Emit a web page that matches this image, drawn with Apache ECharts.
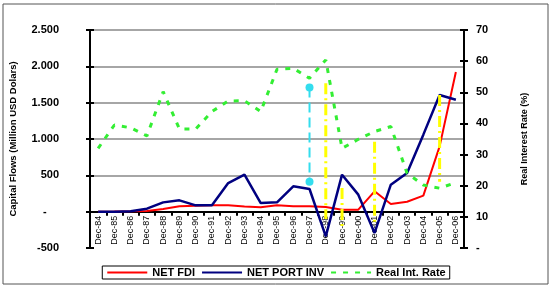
<!DOCTYPE html>
<html>
<head>
<meta charset="utf-8">
<script src="https://cdn.jsdelivr.net/npm/echarts@6/dist/echarts.min.js"></script>
<style>
html,body{margin:0;padding:0;background:#fff;}
#chart{width:552px;height:288px;}
</style>
</head>
<body>
<div id="chart"></div>
<script>
var years = ['Dec-84','Dec-85','Dec-86','Dec-87','Dec-88','Dec-89','Dec-90','Dec-91','Dec-92','Dec-93','Dec-94','Dec-95',
	'Dec-96','Dec-97','Dec-98','Dec-99','Dec-00','Dec-01','Dec-02','Dec-03','Dec-04','Dec-05','Dec-06'];
// million USD
var netFdi = [0, 2, 5, 10, 37, 73, 82, 87, 87, 72, 60, 87, 75, 73, 64, 27, 27, 280, 105, 137, 220, 899, 1922];
var netPortInv = [0, 0, 5, 41, 128, 156, 87, 87, 394, 509, 119, 128, 349, 312, -340, 509, 234, -293, 371, 532, 1060, 1605, 1541];
// %
var realRate = [32, 39.5, 38.6, 36, 50.2, 38.2, 38.2, 43.8, 47.2, 47.3, 43.8, 57.4, 57.7, 54.5, 60.4, 32, 34.9, 37.4, 39, 24, 20.2, 19.2, 21];
// highlight segments on the rate axis: [year, low, high]
var cyanMarks = [['Dec-97', 21.3, 51.5]];
var yellowMarks = [['Dec-98', 9.3, 52.9], ['Dec-99', 6.4, 19.3], ['Dec-01', 7.7, 34.1], ['Dec-05', 21.3, 49.1]];

var FONT = 'Liberation Sans, Arial, sans-serif';

function leftFmt(v){
	if(v === 0) return '-    ';
	var s = Math.abs(v).toString().replace(/\B(?=(\d{3})+(?!\d))/g, '.');
	return (v < 0 ? '-' : '') + s;
}

function segRender(color, dash, ends){
	return function(params, api){
		var x = api.value(0);
		var p1 = api.coord([x, api.value(2)]);
		var p2 = api.coord([x, api.value(1)]);
		var kids = [{
			type:'line',
			shape:{x1:p1[0], y1:p1[1], x2:p2[0], y2:p2[1]},
			style:{stroke:color, lineWidth:ends ? 2 : 3, lineDash:dash}
		}];
		if(ends){
			kids.push({type:'circle', shape:{cx:p1[0], cy:p1[1], r:4}, style:{fill:color}});
			kids.push({type:'circle', shape:{cx:p2[0], cy:p2[1], r:4}, style:{fill:color}});
		}
		return {type:'group', children:kids};
	};
}

var chart = echarts.init(document.getElementById('chart'));
chart.setOption({
	animation:false,
	backgroundColor:'#fff',
	textStyle:{fontFamily:FONT},
	graphic:[{
		type:'rect', shape:{x:3, y:4, width:545, height:280},
		style:{fill:'none', stroke:'#555', lineWidth:1}, silent:true
	}],
	grid:{left:89, right:88, top:30, bottom:40},
	legend:{
		left:'center', top:266,
		padding:[1,4],
		itemWidth:40, itemHeight:10, itemGap:6,
		borderColor:'#000', borderWidth:1,
		itemStyle:{opacity:0},
		textStyle:{fontSize:11, fontWeight:'bold', color:'#000', fontFamily:FONT},
		data:['NET FDI','NET PORT INV','Real Int. Rate']
	},
	xAxis:{
		type:'category',
		data:years,
		boundaryGap:true,
		offset:-36.3,
		axisLine:{onZero:false, lineStyle:{color:'#000', width:2}},
		axisTick:{show:true, interval:0, length:4, lineStyle:{color:'#000', width:2}},
		axisLabel:{rotate:90, interval:0, fontSize:9, color:'#000', margin:4, fontFamily:FONT},
		splitLine:{show:false}
	},
	yAxis:[{
		type:'value', position:'left',
		min:-500, max:2500, interval:500,
		name:'Capital Flows (Million USD Dolars)',
		nameLocation:'middle', nameRotate:90, nameGap:72,
		nameTextStyle:{fontSize:9.5, fontWeight:'bold', color:'#000', fontFamily:FONT},
		axisLine:{show:true, lineStyle:{color:'#000', width:2}},
		axisTick:{show:true, length:4, lineStyle:{color:'#000', width:2}},
		axisLabel:{fontSize:11, fontWeight:'bold', color:'#000', margin:31, formatter:leftFmt, fontFamily:FONT},
		splitLine:{show:true, lineStyle:{color:['transparent','transparent','#888','#888','#888','#888','#888'], width:1.5}}
	},{
		type:'value', position:'right',
		min:0, max:70, interval:10,
		name:'Real Interest Rate (%)',
		nameLocation:'middle', nameRotate:90, nameGap:56,
		nameTextStyle:{fontSize:9, fontWeight:'bold', color:'#000', fontFamily:FONT},
		axisLine:{show:true, lineStyle:{color:'#000', width:2}},
		axisTick:{show:true, length:4, lineStyle:{color:'#000', width:2}},
		axisLabel:{fontSize:11, fontWeight:'bold', color:'#000', margin:12, fontFamily:FONT,
			formatter:function(v){ return v === 0 ? '-' : v; }},
		splitLine:{show:false}
	},{
		// inner half of the crossing ticks on the left
		type:'value', position:'left',
		min:-500, max:2500, interval:500,
		axisLine:{show:false},
		axisTick:{show:true, inside:true, length:4, lineStyle:{color:'#000', width:2}},
		axisLabel:{show:false}, splitLine:{show:false}
	},{
		type:'value', position:'right',
		min:0, max:70, interval:10,
		axisLine:{show:false},
		axisTick:{show:true, inside:true, length:4, lineStyle:{color:'#000', width:2}},
		axisLabel:{show:false}, splitLine:{show:false}
	}],
	series:[{
		name:'NET FDI', type:'line', yAxisIndex:0,
		data:netFdi, symbol:'none',
		itemStyle:{color:'#ff0000'},
		lineStyle:{color:'#ff0000', width:2}
	},{
		name:'NET PORT INV', type:'line', yAxisIndex:0,
		data:netPortInv, symbol:'none',
		itemStyle:{color:'#000080'},
		lineStyle:{color:'#000080', width:2.5}
	},{
		name:'Real Int. Rate', type:'line', yAxisIndex:1,
		data:realRate, symbol:'none',
		itemStyle:{color:'#33ee33'},
		lineStyle:{color:'#33ee33', width:3, type:[5,7]}
	},{
		type:'custom', yAxisIndex:1, z:5,
		data:yellowMarks,
		encode:{x:0, y:[1,2]},
		renderItem:segRender('#ffff00', [11,4,2,4], false)
	},{
		type:'custom', yAxisIndex:1, z:5,
		data:cyanMarks,
		encode:{x:0, y:[1,2]},
		renderItem:segRender('#33ddee', [10,5], true)
	}]
});
</script>
</body>
</html>
